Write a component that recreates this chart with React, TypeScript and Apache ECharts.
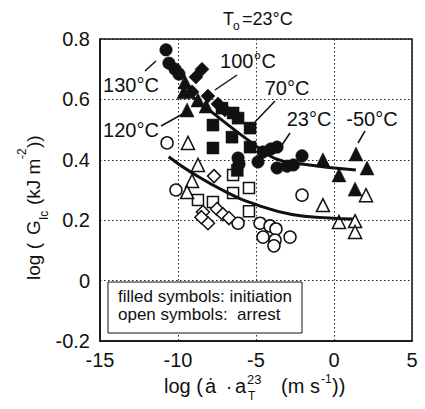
import React, { useEffect, useRef } from "react";
import * as echarts from "echarts";

const FONT = "Liberation Sans";

const xTicks = [-15, -10, -5, 0, 5];
const yTicks = [-0.2, 0, 0.2, 0.4, 0.6, 0.8];

const filledCircleX = [-10.77, -10.58, -10.19, -9.94, -4.55, -4.04, -3.65, -4.87, -3.65, -3.01, -2.6, -2.05, -6.15, -6.09];
const filledCircleY = [0.764, 0.72, 0.7, 0.684, 0.426, 0.436, 0.442, 0.393, 0.373, 0.379, 0.383, 0.413, 0.406, 0.386];

const filledTriangleX = [-9.55, -9.62, -9.42, -8.72, -8.2, -0.71, 1.41, 2.12, 0.32, 1.35];
const filledTriangleY = [0.658, 0.625, 0.565, 0.598, 0.578, 0.4, 0.419, 0.373, 0.35, 0.303];

const filledDiamondX = [-8.46, -8.85, -9.1, -8.08, -7.44, -6.99];
const filledDiamondY = [0.7, 0.674, 0.625, 0.611, 0.585, 0.565];

const filledSquareX = [-7.76, -6.47, -6.54, -5.38, -7.76, -5.38, -6.15, -7.18, -6.2];
const filledSquareY = [0.515, 0.555, 0.475, 0.505, 0.439, 0.442, 0.538, 0.571, 0.365];

const openTriangleX = [-9.36, -8.72, -9.1, -9.42, 2.05, -0.71, 0.32, 1.35, 1.35];
const openTriangleY = [0.456, 0.383, 0.33, 0.293, 0.283, 0.25, 0.194, 0.197, 0.161];

const openCircleX = [-10.7, -10.13, -2.05, -6.15, -4.74, -4.1, -3.72, -4.55, -3.78, -3.85, -2.82];
const openCircleY = [0.456, 0.3, 0.283, 0.19, 0.19, 0.181, 0.171, 0.144, 0.134, 0.115, 0.144];

const openDiamondX = [-7.69, -8.4, -8.08, -7.5, -7.12, -6.73, -8.5];
const openDiamondY = [0.346, 0.227, 0.19, 0.237, 0.22, 0.207, 0.21];

const openSquareX = [-6.47, -5.45, -6.47, -8.72, -7.76, -5.45];
const openSquareY = [0.35, 0.307, 0.29, 0.267, 0.26, 0.23];

const upperCurveX = [-9.8, -7.2, -5.0, -3.8, -2.2, 1.4];
const upperCurveY = [0.64, 0.532, 0.446, 0.405, 0.387, 0.366];

const lowerCurveX = [-10.6, -9.2, -6.9, -4.9, -2.7, -0.3, 1.2];
const lowerCurveY = [0.41, 0.36, 0.293, 0.25, 0.219, 0.207, 0.204];

const zip = (xs: number[], ys: number[]) => xs.map((x, i) => [x, ys[i]]);

function scatter(name: string, xs: number[], ys: number[], symbol: string, size: number, filled: boolean) {
  return {
    name,
    type: "scatter",
    data: zip(xs, ys),
    symbol,
    symbolSize: size,
    z: filled ? 3 : 2,
    itemStyle: filled
      ? { color: "#111", borderColor: "#111", borderWidth: 0.5, opacity: 1 }
      : { color: "#fff", borderColor: "#111", borderWidth: 1.5, opacity: 1 },
  };
}

function curve(name: string, xs: number[], ys: number[]) {
  return {
    name,
    type: "line",
    data: zip(xs, ys),
    smooth: 0.5,
    showSymbol: false,
    symbol: "none",
    z: 5,
    lineStyle: { color: "#111", width: 3 },
  };
}

const txt = (text: string, x: number, y: number, size: number, align = "left", rotation = 0) => ({
  type: "text",
  x,
  y,
  rotation,
  style: { text, fontSize: size, fontFamily: FONT, fill: "#111", align, verticalAlign: "middle" },
  z: 100,
});

const leader = (x1: number, y1: number, x2: number, y2: number) => ({
  type: "line",
  shape: { x1, y1, x2, y2 },
  style: { stroke: "#111", lineWidth: 1.5 },
  z: 100,
});

const yNameBase = 280;
const yNameX = 33;
const yPiece = (t: string, along: number, across: number, size: number) =>
  txt(t, yNameX + across, yNameBase - along, size, "left", Math.PI / 2);

export default function App() {
  const ref = useRef<HTMLDivElement>(null);
  useEffect(() => {
    if (!ref.current) return;
    const chart = echarts.init(ref.current, undefined, { renderer: "svg" });
    chart.setOption({
      animation: false,
      backgroundColor: "#fff",
      grid: {
        left: 100,
        right: 13,
        top: 39,
        bottom: 68,
        show: true,
        borderColor: "#111",
        borderWidth: 1.5,
        backgroundColor: "transparent",
      },
      xAxis: {
        type: "value",
        min: xTicks[0],
        max: xTicks[xTicks.length - 1],
        interval: 5,
        axisLine: { show: true, onZero: false, lineStyle: { color: "#111", width: 1.5 } },
        axisTick: { show: false },
        axisLabel: { fontSize: 20, fontFamily: FONT, color: "#111", margin: 9 },
        splitLine: { show: true, lineStyle: { color: "#222", width: 1, type: [1.5, 2.5] } },
      },
      yAxis: {
        type: "value",
        min: yTicks[0],
        max: yTicks[yTicks.length - 1],
        interval: 0.2,
        axisLine: { show: true, onZero: false, lineStyle: { color: "#111", width: 1.5 } },
        axisTick: { show: false },
        axisLabel: { fontSize: 20, fontFamily: FONT, color: "#111", margin: 10 },
        splitLine: { show: true, lineStyle: { color: "#222", width: 1, type: [1.5, 2.5] } },
      },
      series: [
        scatter("openCircles", openCircleX, openCircleY, "circle", 12, false),
        scatter("openSquares", openSquareX, openSquareY, "rect", 11, false),
        scatter("openDiamonds", openDiamondX, openDiamondY, "diamond", 13, false),
        scatter("openTriangles", openTriangleX, openTriangleY, "triangle", 13, false),
        scatter("filledSquares", filledSquareX, filledSquareY, "rect", 12, true),
        scatter("filledCircles", filledCircleX, filledCircleY, "circle", 12.5, true),
        scatter("filledDiamonds", filledDiamondX, filledDiamondY, "diamond", 14, true),
        scatter("filledTriangles", filledTriangleX, filledTriangleY, "triangle", 14, true),
        curve("upperFit", upperCurveX, upperCurveY),
        curve("lowerFit", lowerCurveX, lowerCurveY),
      ],
      graphic: [
        txt("T", 223, 19, 18),
        txt("o", 233, 26, 12),
        txt("=23°C", 242, 19, 18),
        txt("130°C", 131, 85, 20, "center"),
        txt("120°C", 131, 130, 20, "center"),
        txt("100°C", 248, 61, 20, "center"),
        txt("70°C", 287, 88, 20, "center"),
        txt("23°C", 309, 119, 20, "center"),
        txt("-50°C", 372, 119, 20, "center"),
        leader(145, 71, 156, 61),
        leader(161, 126, 188, 111),
        leader(215, 90, 237, 75),
        leader(255, 122, 275, 101),
        leader(282, 145, 290, 133),
        leader(358, 143, 365, 131),
        {
          type: "rect",
          shape: { x: 108, y: 282, width: 194, height: 51 },
          style: { fill: "#fff", stroke: "#111", lineWidth: 1 },
          z: 99,
        },
        txt("filled symbols: initiation", 118, 296.5, 17),
        txt("open symbols:  arrest", 118, 314, 17),
        txt("log (", 164, 386, 20),
        txt("ȧ", 205, 386, 20),
        txt("·", 229, 386, 20, "center"),
        txt("a", 235, 386, 20),
        txt("23", 247, 379, 13),
        txt("T", 248, 396, 12),
        txt("(m s", 281, 386, 20),
        txt("-1", 321, 379, 12),
        txt("))", 332, 386, 20),
        yPiece("log (", 0, 0, 19),
        yPiece("G", 45, 0, 19),
        yPiece("Ic", 60, 11, 12),
        yPiece("(kJ m", 75, 0, 19),
        yPiece("-2", 121, -11, 12),
        yPiece("))", 132, 0, 19),
      ],
    });
    return () => chart.dispose();
  }, []);
  return (
    <div
      ref={ref}
      style={{ position: "fixed", left: 0, top: 0, width: 425, height: 409, background: "#fff" }}
    />
  );
}
